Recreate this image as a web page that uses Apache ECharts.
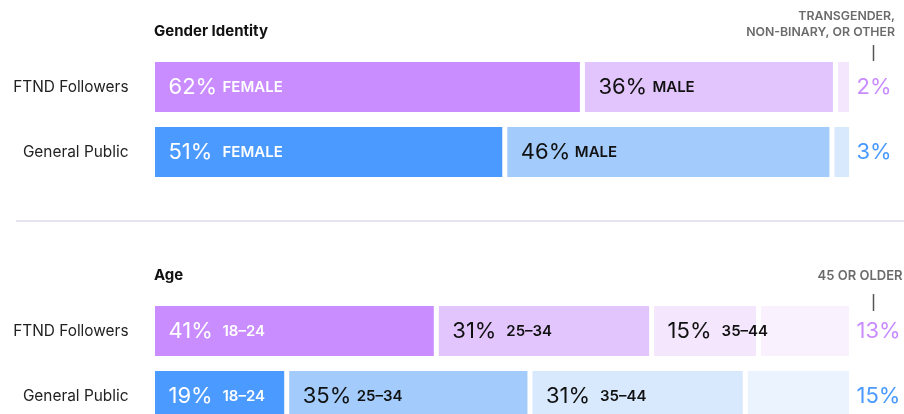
<!DOCTYPE html>
<html><head><meta charset="utf-8">
<script src="https://cdn.jsdelivr.net/npm/echarts@6/dist/echarts.min.js"></script>
<style>html,body{margin:0;padding:0;background:#fff}#c{width:904px;height:414px}</style>
</head><body><div id="c"></div>
<script>
const rows = ['FTND Followers', 'General Public'];

const genderCats = ['FEMALE', 'MALE', 'TRANSGENDER, NON-BINARY, OR OTHER'];
const genderFTND = [61.5, 36.2, 2.3];
const genderPublic = [50.4, 46.8, 2.8];
const genderLabelsFTND = ['62%', '36%', '2%'];
const genderLabelsPublic = ['51%', '46%', '3%'];
const genderColorIdx = [0, 1, 2];

const ageCats = ['18–24', '25–34', '35–44', '45 OR OLDER'];
const ageFTND = [40.6, 30.8, 15.3, 13.3];
const agePublic = [19.2, 34.8, 30.8, 15.2];
const ageLabelsFTND = ['41%', '31%', '15%', '13%'];
const ageLabelsPublic = ['19%', '35%', '31%', '15%'];
const ageColorIdx = [0, 1, 2, 3];

const ftndColors = ['#C98DFF', '#E3C5FD', '#F3E6FD', '#F9F2FE'];
const publicColors = ['#4A9AFF', '#A3CCFC', '#D9E9FD', '#EBF3FE'];

const FONT = 'Inter, "Noto Sans", sans-serif';

function makeItem(value, pct, cat, colors, ci, isLast) {
  const color = colors[ci];
  const label = isLast ? {
    show: true, position: 'right', distance: 5,
    formatter: '{r|' + pct + '}',
    rich: { r: { fontFamily: FONT, fontSize: 22, fontWeight: 400, color: colors[0] } }
  } : {
    show: true, position: 'insideLeft', distance: 16,
    formatter: '{p|' + pct + '}{c|' + cat + '}',
    rich: {
      p: { fontFamily: FONT, fontSize: 22, fontWeight: 400, width: 54, align: 'left', color: ci === 0 ? '#ffffff' : '#111111' },
      c: { fontFamily: FONT, fontSize: 15, fontWeight: 600, color: ci === 0 ? '#ffffff' : '#111111' }
    }
  };
  return { value: value, itemStyle: { color: color }, label: label };
}

function buildSeries(cats, ftnd, pub, lf, lp, cidx, axisIdx, stack) {
  return cats.map((cat, i) => ({
    type: 'bar', name: cat, stack: stack,
    xAxisIndex: axisIdx, yAxisIndex: axisIdx,
    barWidth: 55,
    itemStyle: { borderColor: '#ffffff', borderWidth: 2.5 },
    emphasis: { disabled: true },
    data: [
      makeItem(ftnd[i], lf[i], cat, ftndColors, cidx[i], i === cats.length - 1),
      makeItem(pub[i], lp[i], cat, publicColors, cidx[i], i === cats.length - 1)
    ]
  }));
}

const yAxisBase = {
  type: 'category', data: rows, inverse: true,
  axisLine: { show: false }, axisTick: { show: false }, splitLine: { show: false },
  axisLabel: { margin: 24, fontFamily: FONT, fontSize: 15.4, color: '#222222' }
};
const xAxisBase = { type: 'value', min: 0, max: 100, show: false };

const chart = echarts.init(document.getElementById('c'), null, { renderer: 'canvas' });
chart.setOption({
  animation: false,
  grid: [
    { left: 152.5, width: 699, top: 54.5, height: 130, outerBoundsMode: 'none', containLabel: false },
    { left: 152.5, width: 699, top: 298.5, height: 130, outerBoundsMode: 'none', containLabel: false }
  ],
  xAxis: [Object.assign({ gridIndex: 0 }, xAxisBase), Object.assign({ gridIndex: 1 }, xAxisBase)],
  yAxis: [Object.assign({ gridIndex: 0 }, yAxisBase), Object.assign({ gridIndex: 1 }, yAxisBase)],
  series: [].concat(
    buildSeries(genderCats, genderFTND, genderPublic, genderLabelsFTND, genderLabelsPublic, genderColorIdx, 0, 'gender'),
    buildSeries(ageCats, ageFTND, agePublic, ageLabelsFTND, ageLabelsPublic, ageColorIdx, 1, 'age')
  ),
  graphic: [
    { type: 'text', x: 154, y: 31.5, style: { text: 'Gender Identity', fontFamily: FONT, fontSize: 15, fontWeight: 700, fill: '#111', align: 'left', verticalAlign: 'middle' } },
    { type: 'text', x: 154, y: 275.5, style: { text: 'Age', fontFamily: FONT, fontSize: 15, fontWeight: 700, fill: '#111', align: 'left', verticalAlign: 'middle' } },
    { type: 'text', x: 895, y: 16, style: { text: 'TRANSGENDER,', fontFamily: FONT, fontSize: 12.3, fontWeight: 600, fill: '#6b6b6b', align: 'right', verticalAlign: 'middle' } },
    { type: 'text', x: 895, y: 32.5, style: { text: 'NON-BINARY, OR OTHER', fontFamily: FONT, fontSize: 12.3, fontWeight: 600, fill: '#6b6b6b', align: 'right', verticalAlign: 'middle' } },
    { type: 'text', x: 902.5, y: 276.5, style: { text: '45 OR OLDER', fontFamily: FONT, fontSize: 13, fontWeight: 600, fill: '#6b6b6b', align: 'right', verticalAlign: 'middle' } },
    { type: 'line', shape: { x1: 873.5, y1: 45, x2: 873.5, y2: 61 }, style: { stroke: '#555', lineWidth: 1.5 } },
    { type: 'line', shape: { x1: 873.5, y1: 294, x2: 873.5, y2: 311 }, style: { stroke: '#555', lineWidth: 1.5 } },
    { type: 'line', shape: { x1: 16, y1: 221, x2: 904, y2: 221 }, style: { stroke: '#E6E4EE', lineWidth: 2 } }
  ]
});
</script>
</body></html>
